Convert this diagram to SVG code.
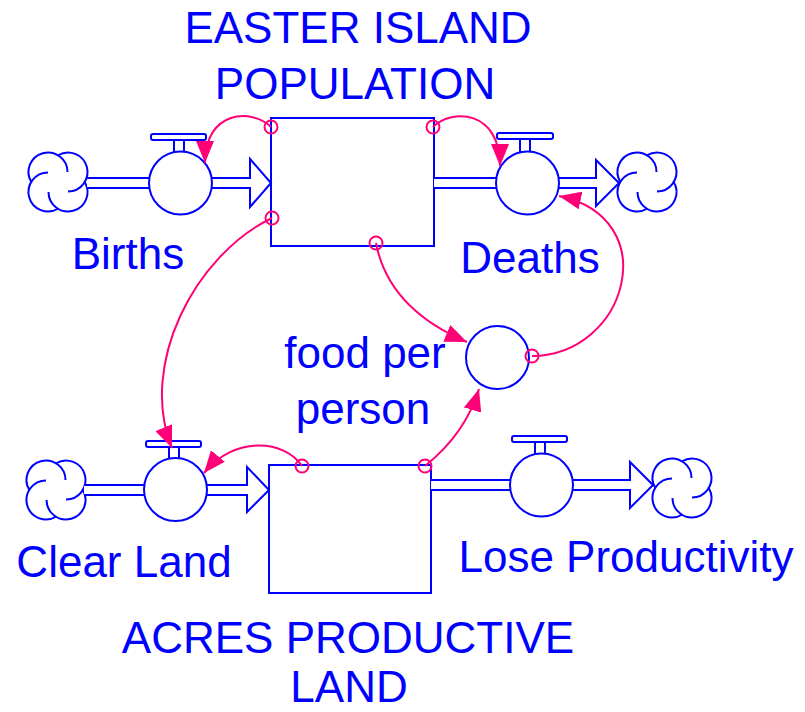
<svg xmlns="http://www.w3.org/2000/svg" width="805" height="712" viewBox="0 0 805 712">
<style>
.b{fill:none;stroke:#0000ff;stroke-width:2}
.bw{fill:#ffffff;stroke:#0000ff;stroke-width:2}
.cf{fill:#ffffff;stroke:none}
.c{fill:none;stroke:#ff0077;stroke-width:2}
.o{fill:none;stroke:#ff0077;stroke-width:2}
text{font-family:"Liberation Sans",Arial,sans-serif;font-size:44px;fill:#0000ff;text-anchor:middle}
</style>
<defs>
<marker id="ah" markerUnits="userSpaceOnUse" markerWidth="22" markerHeight="18" refX="22" refY="9" orient="auto" viewBox="0 0 22 18">
<path d="M0,0 L22,9 L0,18 Z" fill="#ff0077"/>
</marker>
<g id="cloudShape">
<circle class="cf" cx="-10" cy="-10" r="19.5"/>
<circle class="cf" cx="10" cy="-10" r="19.5"/>
<circle class="cf" cx="10" cy="10" r="19.5"/>
<circle class="cf" cx="-10" cy="10" r="19.5"/>
<path class="b" d="M9.5,-10 A19.5,19.5 0 1 0 -26.74,0"/>
<path class="b" d="M-10,-9.5 A19.5,19.5 0 1 0 0,26.74"/>
<path class="b" d="M-9.5,10 A19.5,19.5 0 1 0 26.74,0"/>
<path class="b" d="M10,9.5 A19.5,19.5 0 1 0 0,-26.74"/>
</g>
</defs>
<rect width="805" height="712" fill="#ffffff"/>

<g id="easter-island-population">
<rect class="b" x="271" y="118" width="163" height="128"/>
<text x="358" y="43">EASTER ISLAND</text>
<text x="355" y="99">POPULATION</text>
</g>

<g id="acres-productive-land">
<rect class="b" x="269" y="465" width="162" height="128"/>
<text x="348" y="653">ACRES PRODUCTIVE</text>
<text x="349" y="702">LAND</text>
</g>

<g id="births">
<use href="#cloudShape" x="58" y="182"/>
<path class="bw" d="M87,178 L150,178 L150,188 L87,188"/>
<path class="bw" d="M211,178 L250,178 L250,159 L271,183 L250,207 L250,188 L211,188"/>
<rect class="bw" x="174" y="139" width="10" height="13"/>
<rect class="bw" x="151" y="134" width="55" height="6" rx="2"/>
<circle class="bw" cx="180.5" cy="183" r="31.5"/>
<text x="128" y="269">Births</text>
</g>

<g id="deaths">
<use href="#cloudShape" x="647" y="182"/>
<path class="bw" d="M434,178 L497,178 L497,188 L434,188"/>
<path class="bw" d="M558,178 L596,178 L596,160 L619,183 L596,206 L596,188 L558,188"/>
<rect class="bw" x="520" y="138" width="10" height="14"/>
<rect class="bw" x="497" y="133" width="56" height="6" rx="2"/>
<circle class="bw" cx="527.5" cy="183" r="31.5"/>
<text x="530" y="273">Deaths</text>
</g>

<g id="clear-land">
<use href="#cloudShape" x="56" y="490"/>
<path class="bw" d="M84,485 L145,485 L145,495 L84,495"/>
<path class="bw" d="M206,485 L247,485 L247,467 L269,490 L247,512 L247,495 L206,495"/>
<rect class="bw" x="169" y="446" width="10" height="13"/>
<rect class="bw" x="146" y="441" width="55" height="6" rx="2"/>
<circle class="bw" cx="175.5" cy="489.5" r="31.5"/>
<text x="124" y="577">Clear Land</text>
</g>

<g id="lose-productivity">
<use href="#cloudShape" x="682" y="488"/>
<path class="bw" d="M431,480 L511,480 L511,490 L431,490"/>
<path class="bw" d="M572,480 L630,480 L630,462 L653,485 L630,508 L630,490 L572,490"/>
<rect class="bw" x="535" y="441" width="10" height="13"/>
<rect class="bw" x="512" y="436" width="55" height="6" rx="2"/>
<circle class="bw" cx="541.5" cy="485" r="31.5"/>
<text x="626" y="572">Lose Productivity</text>
</g>

<g id="food-per-person">
<circle class="bw" cx="497.5" cy="357.5" r="31.5"/>
<text x="365" y="368">food per</text>
<text x="363" y="424">person</text>
</g>

<g id="connectors">
<path class="c" d="M271,127 C252,108 205,110 205,163" marker-end="url(#ah)"/>
<circle class="o" cx="271" cy="127" r="6.5"/>
<path class="c" d="M433,127 C452,108 500,110 500,166" marker-end="url(#ah)"/>
<circle class="o" cx="433" cy="127" r="6.5"/>
<path class="c" d="M272,218 C195,255 138,365 172,448" marker-end="url(#ah)"/>
<circle class="o" cx="272" cy="218" r="6.5"/>
<path class="c" d="M376,243 C385,290 420,322 467,342" marker-end="url(#ah)"/>
<circle class="o" cx="376" cy="243" r="6.5"/>
<path class="c" d="M532,356 C628,355 665,218 559,196" marker-end="url(#ah)"/>
<circle class="o" cx="532" cy="356" r="6.5"/>
<path class="c" d="M302,466 C285,440 235,435 204,473" marker-end="url(#ah)"/>
<circle class="o" cx="302" cy="466" r="6.5"/>
<path class="c" d="M425,466 C445,450 468,425 479,389" marker-end="url(#ah)"/>
<circle class="o" cx="425" cy="466" r="6.5"/>
</g>
</svg>
